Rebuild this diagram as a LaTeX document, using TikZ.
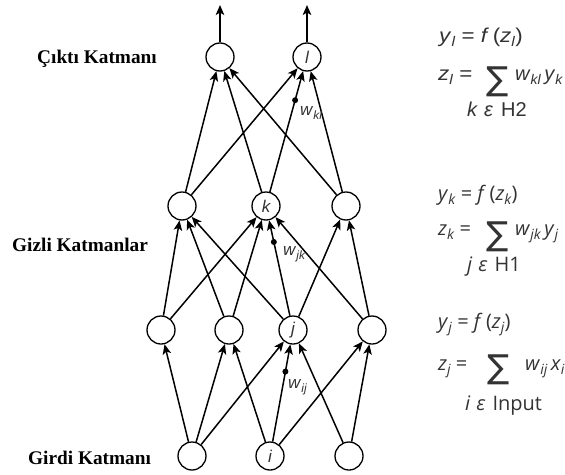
\documentclass[tikz,border=0pt]{standalone}
\usepackage{fontspec}
\setmainfont{Liberation Serif}
\newfontfamily\eqA{Liberation Sans}
\newfontfamily\eqB{Open Sans}
\newfontfamily\symf{DejaVu Sans}
\usetikzlibrary{arrows.meta,calc}
\definecolor{eqgray}{HTML}{333333}
\newcommand{\vsub}[2]{\textit{#1}\raisebox{-0.45ex}{\fontsize{14}{14}\selectfont\textit{#2}}}
\newcommand{\wsub}[2]{\textit{#1}\raisebox{-0.45ex}{\fontsize{12}{12}\selectfont\textit{#2}}}
\newcommand{\strA}[1]{\scalebox{1.12}[1]{#1}}
\begin{document}
\begin{tikzpicture}[x=1pt,y=-1pt,
  neuron/.style={circle, draw, line width=1.3pt, minimum size=28pt, inner sep=0pt,
    text=eqgray, font=\eqA\fontsize{17}{17}\selectfont\itshape},
  conn/.style={-{Stealth[length=10pt,width=8.5pt,inset=2.5pt]}, line width=1.5pt},
  layer/.style={anchor=base west, inner sep=0pt, font=\bfseries\fontsize{19.3}{19.3}\selectfont},
  eqA/.style={anchor=base west, inner sep=0pt, text=eqgray, font=\eqA\fontsize{20}{20}\selectfont},
  eqB/.style={anchor=base west, inner sep=0pt, text=eqgray, font=\eqB\fontsize{20}{20}\selectfont},
  sumsign/.style={anchor=base, inner sep=0pt, text=eqgray, font=\symf\fontsize{33}{33}\selectfont},
  wlab/.style={anchor=west, inner sep=0pt, text=eqgray, font=\eqA\fontsize{17}{17}\selectfont},
  wdot/.style={circle, fill=black, inner sep=0pt, minimum size=6pt}]
\useasboundingbox (0,0) rectangle (565,474);

% nodes
\node[neuron] (o1) at (220,57) {};
\node[neuron] (o2) at (307,57) {l};
\node[neuron] (k1) at (182,206) {};
\node[neuron] (k2) at (266,206) {k};
\node[neuron] (k3) at (346,206) {};
\node[neuron] (j1) at (161,330) {};
\node[neuron] (j2) at (229,330) {};
\node[neuron] (j3) at (293,330) {j};
\node[neuron] (j4) at (372,330) {};
\node[neuron] (i1) at (192,456) {};
\node[neuron] (i2) at (270,456) {i};
\node[neuron] (i3) at (349,456) {};
\coordinate (o1top) at (220,5);
\coordinate (o2top) at (307,5);

% outputs
\draw[conn] (o1) -- (o1top);
\draw[conn] (o2) -- (o2top);
% hidden2 -> output
\foreach \a in {k1,k2,k3}{\foreach \b in {o1,o2}{\draw[conn] (\a) -- (\b);}}
% hidden1 -> hidden2
\foreach \a/\b in {j1/k1,j2/k1,j3/k1,j1/k2,j2/k2,j3/k2,j4/k2,j3/k3,j4/k3}{\draw[conn] (\a) -- (\b);}
% input -> hidden1
\foreach \a/\b in {i1/j1,i1/j2,i2/j2,i1/j3,i2/j3,i3/j3,i2/j4,i3/j4}{\draw[conn] (\a) -- (\b);}

% weights
\node[wdot] (dkl) at ($(k2)!0.71!(o2)$) {};
\node[wdot] (djk) at ($(j3)!0.71!(k2)$) {};
\node[wdot] (dij) at ($(i2)!0.67!(j3)$) {};
\node[wlab] (lkl) at (300,113) {\wsub{w}{kl}};
\node[wlab] (ljk) at (283,254) {\wsub{w}{jk}};
\node[wlab] (lij) at (288,387) {\wsub{w}{ij}};

% layer labels
\node[layer] (lout) at (37,63) {Çıktı Katmanı};
\node[layer] (lhid) at (12,251) {Gizli Katmanlar};
\node[layer] (lin) at (28,464) {Girdi Katmanı};

% equations block 1
\node[eqA] (e1a) at (439,42) {\strA{\vsub{y}{l} = \textit{f}\,(\vsub{z}{l})}};
\node[eqA] (e1b) at (438,80) {\strA{\vsub{z}{l} =}};
\node[sumsign] (s1) at (498,90) {∑};
\node[eqA] (e1c) at (515,80) {\vsub{w}{kl}\,\vsub{y}{k}};
\node[eqA] (e1d) at (467,116) {\textit{k}\hspace{6pt}\textit{ε}\hspace{8pt}H2};

% block 2
\node[eqB] (e2a) at (438,200) {\vsub{y}{k} = \textit{f}\,(\vsub{z}{k})};
\node[eqB] (e2b) at (438,235) {\vsub{z}{k} =};
\node[sumsign] (s2) at (498,245) {∑};
\node[eqB] (e2c) at (515,235) {\vsub{w}{jk}\,\vsub{y}{j}};
\node[eqB] (e2d) at (467,271) {\textit{j}\hspace{6pt}\textit{ε}\hspace{7pt}H1};

% block 3
\node[eqB] (e3a) at (438,328) {\vsub{y}{j} = \textit{f}\,(\vsub{z}{j})};
\node[eqB] (e3b) at (438,370) {\vsub{z}{j} =};
\node[sumsign] (s3) at (499,378) {∑};
\node[eqB] (e3c) at (525,370) {\vsub{w}{ij}\,\vsub{x}{i}};
\node[eqB] (e3d) at (465,410) {\textit{i}\hspace{6pt}\textit{ε}\hspace{7pt}Input};
\end{tikzpicture}
\end{document}
